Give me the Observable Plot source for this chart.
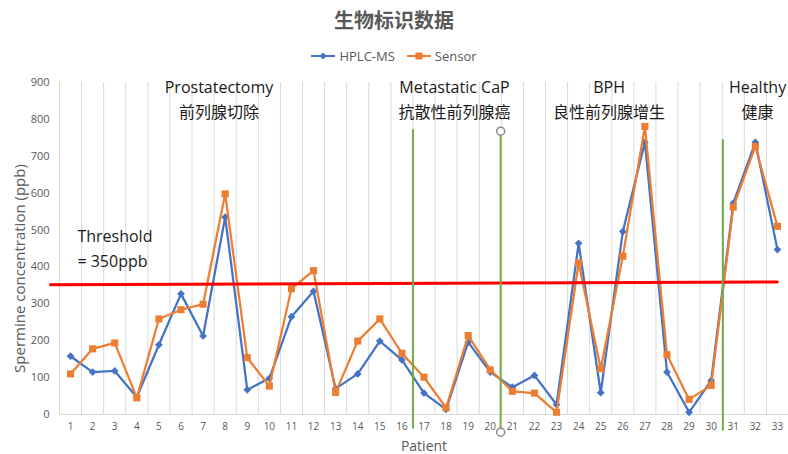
<!DOCTYPE html>
<html><head><meta charset="utf-8">
<script src="https://cdn.jsdelivr.net/npm/d3@7"></script>
<script src="https://cdn.jsdelivr.net/npm/@observablehq/plot@0.6"></script>
<style>
body{margin:0;background:#fff;font-family:"Open Sans","Noto Sans CJK SC",sans-serif;}
#title{height:40px;line-height:40px;text-align:center;font-size:20px;font-weight:bold;color:#595959;font-family:"Noto Sans CJK SC",sans-serif;}
#legend{height:32px;display:flex;justify-content:center;align-items:center;gap:12px;font-size:13px;color:#595959;}
.item{display:flex;align-items:center;gap:4px;}
#chart svg{display:block;}
</style></head>
<body>
<div id="title"></div>
<div id="legend"></div>
<div id="chart"></div>
<script>
const titleText = "生物标识数据";
const seriesNames = ["HPLC-MS", "Sensor"];
const patients = [1,2,3,4,5,6,7,8,9,10,11,12,13,14,15,16,17,18,19,20,21,22,23,24,25,26,27,28,29,30,31,32,33];
const hplc   = [158,115,118,47,189,327,213,535,67,98,265,334,70,110,199,148,58,14,196,115,74,106,27,464,59,496,738,115,6,92,573,738,447];
const sensor = [110,178,194,45,259,284,299,598,154,77,341,390,60,199,259,166,101,18,214,121,63,58,6,411,124,429,781,162,41,79,562,727,510];
const yTicks = [0,100,200,300,400,500,600,700,800,900];
const yTitle = "Spermine concentration (ppb)";
const xTitle = "Patient";
// group annotations (x in patient units)
const groupX  = [7.72, 18.38, 25.38, 32.1];
const groupEn = ["Prostatectomy", "Metastatic CaP", "BPH", "Healthy"];
const groupZh = ["前列腺切除", "抗散性前列腺癌", "良性前列腺增生", "健康"];
// divider lines between groups
const dividerX   = [16.5, 20.47, 30.53];
const dividerTop = [772, 768, 745];
const dividerBot = [-39, -48, -45];
// threshold line (hand drawn, slightly tilted)
const thrX = [0.09, 32.99];
const thrY = [352, 359];
const thrLabel = ["Threshold", "= 350ppb"];
const thrLabelX = 1.31;
const thrLabelY = [482, 415];

const colors = ["#4472C4", "#ED7D31"];

document.getElementById("title").textContent = titleText;
const leg = d3.select("#legend");
seriesNames.forEach((name, i) => {
  const it = leg.append("div").attr("class", "item");
  const s = it.append("svg").attr("width", 24).attr("height", 10);
  s.append("line").attr("x1", 0).attr("x2", 24).attr("y1", 5).attr("y2", 5).attr("stroke", colors[i]).attr("stroke-width", 2);
  if (i === 0) s.append("path").attr("d", "M12,1.5L15.5,5L12,8.5L8.5,5Z").attr("fill", colors[i]);
  else s.append("rect").attr("x", 8.5).attr("y", 1.5).attr("width", 7).attr("height", 7).attr("fill", colors[i]);
  it.append("span").text(name);
});

const rows = patients.map((p, i) => ({patient: p, hplc: hplc[i], sensor: sensor[i]}));
const groups = groupX.map((x, i) => ({x, en: groupEn[i], zh: groupZh[i]}));
const dividers = dividerX.map((x, i) => ({x, top: dividerTop[i], bot: dividerBot[i]}));
const thr = thrX.map((x, i) => ({x, y: thrY[i]}));
const thrText = thrLabel.map((t, i) => ({t, x: thrLabelX, y: thrLabelY[i]}));
const handles = [{x: dividerX[1], y: dividerTop[1]}, {x: dividerX[1], y: dividerBot[1]}];

const font = '"Open Sans","Noto Sans CJK SC",sans-serif';
const plot = Plot.plot({
  width: 788, height: 382,
  marginLeft: 59, marginRight: 0, marginTop: 10, marginBottom: 40,
  style: {fontFamily: font, color: "#595959", background: "white", overflow: "visible"},
  x: {domain: [0.5, 33.5]},
  y: {domain: [0, 900]},
  marks: [
    Plot.ruleX(d3.range(0.5, 34, 1), {y1: 0, y2: 900, stroke: "#d9d9d9", strokeWidth: 1}),
    Plot.ruleY([0], {stroke: "#d9d9d9", strokeWidth: 1}),
    Plot.axisY(yTicks, {tickSize: 0, tickPadding: 10, fontSize: 11, label: null, fill: "#595959"}),
    Plot.axisX(patients, {tickSize: 0, tickPadding: 8, fontSize: 10, label: null, fill: "#595959"}),
    Plot.text([yTitle], {frameAnchor: "left", textAnchor: "middle", lineAnchor: "middle", dx: -39, dy: 20, rotate: -90, fontSize: 15, fill: "#595959"}),
    Plot.text([xTitle], {frameAnchor: "bottom", textAnchor: "middle", lineAnchor: "middle", dx: 0, dy: 32, fontSize: 14, fill: "#595959"}),
    Plot.line(rows, {x: "patient", y: "hplc", stroke: colors[0], strokeWidth: 2.25}),
    Plot.dot(rows, {x: "patient", y: "hplc", symbol: "diamond2", r: 3.5, fill: colors[0]}),
    Plot.line(rows, {x: "patient", y: "sensor", stroke: colors[1], strokeWidth: 2.25}),
    Plot.dot(rows, {x: "patient", y: "sensor", symbol: "square", r: 4, fill: colors[1]}),
    Plot.line(thr, {x: "x", y: "y", stroke: "#FF0000", strokeWidth: 3}),
    Plot.ruleX(dividers, {x: "x", y1: "bot", y2: "top", stroke: "#70AD47", strokeWidth: 2}),
    Plot.dot(handles, {x: "x", y: "y", r: 4, stroke: "#8c8c8c", strokeWidth: 1.5, fill: "white"}),
    Plot.text(groups, {x: "x", y: () => 885, text: "en", fontSize: 16, fill: "#1a1a1a"}),
    Plot.text(groups, {x: "x", y: () => 818, text: "zh", fontSize: 16, fill: "#1a1a1a", fontFamily: '"Noto Sans CJK SC",sans-serif'}),
    Plot.text(thrText, {x: "x", y: "y", text: "t", textAnchor: "start", fontSize: 16, fill: "#1a1a1a"})
  ]
});
document.getElementById("chart").appendChild(plot);
</script>
</body></html>
